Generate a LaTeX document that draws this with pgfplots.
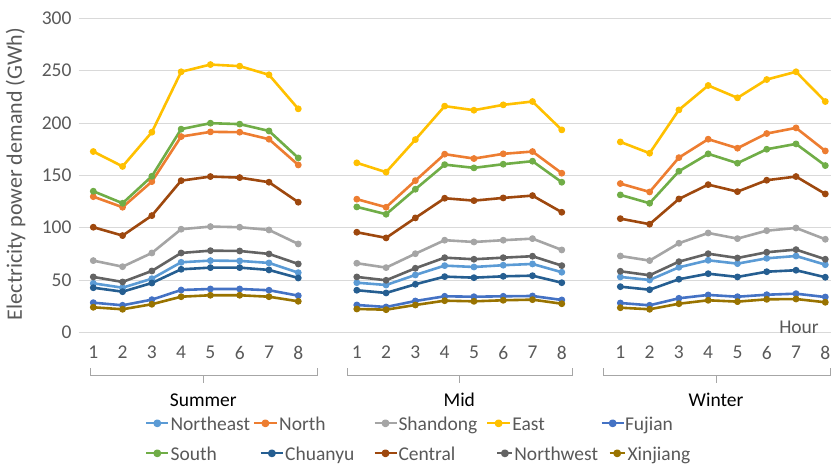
\documentclass[border=0pt]{standalone}
\usepackage{pgfplots}
\usepackage{pgfplotstable}
\pgfplotsset{compat=1.18}
\usepackage{fontspec}
\setmainfont{Carlito}

\definecolor{cNE}{HTML}{5B9BD5}
\definecolor{cN}{HTML}{ED7D31}
\definecolor{cSD}{HTML}{A5A5A5}
\definecolor{cE}{HTML}{FFC000}
\definecolor{cFJ}{HTML}{4472C4}
\definecolor{cS}{HTML}{70AD47}
\definecolor{cCY}{HTML}{255E91}
\definecolor{cC}{HTML}{9E480E}
\definecolor{cNW}{HTML}{636363}
\definecolor{cXJ}{HTML}{997300}
\definecolor{ctext}{HTML}{595959}
\definecolor{cgrid}{HTML}{D9D9D9}
\definecolor{cbrace}{HTML}{A6A6A6}

\newcommand{\fs}{\fontsize{19.5pt}{23pt}\selectfont}

% legend symbol: colour, horizontal offset, line length
\newcommand{\legsym}[3]{%
  \path (0pt,0pt);
  \draw[overlay,#1,line width=2pt] (#2,6.7pt) -- ++(#3,0pt);
  \fill[overlay,#1] (#2,6.7pt) ++(0.5*#3,0pt) circle (2.6pt);
}

% hourly demand (GWh); x = 0-7 Summer, 9-16 Mid, 18-25 Winter
\pgfplotstableread{
x  NE   N     SD    E     FJ   S     CY   C     NW   XJ
0  46.8 129.6 68.5  172.7 28.3 134.8 42.6 100.4 52.9 23.9
1  42.6 119.5 62.7  158.5 25.8 123.3 38.8 92.4  48.1 22.0
2  51.2 144.0 75.8  191.2 31.2 149.1 47.1 111.5 58.6 26.8
3  66.9 187.0 98.5  248.9 40.4 194.1 60.2 144.9 75.8 34.0
4  68.5 191.5 101.0 255.8 41.4 199.8 61.8 148.8 78.0 35.4
5  68.2 191.2 100.4 254.3 41.4 198.9 61.8 147.8 77.7 35.4
6  66.3 184.5 97.8  246.0 40.2 192.4 59.6 143.4 74.9 34.0
7  57.0 159.9 84.4  213.5 35.0 166.6 51.9 124.3 65.3 29.6
8  nan  nan   nan   nan   nan  nan   nan  nan   nan  nan
9  47.4 127.2 66.0  161.9 26.1 119.8 40.2 95.6  52.9 22.3
10 45.2 119.5 61.8  153.0 24.2 112.8 37.6 90.2  49.7 21.6
11 54.8 144.9 75.1  184.1 29.9 136.7 45.9 109.3 61.2 26.1
12 63.7 170.2 88.0  216.1 34.4 160.2 53.2 128.1 71.3 30.2
13 62.4 166.0 86.3  212.2 34.0 157.1 52.2 125.8 69.8 29.6
14 64.1 170.5 88.0  217.3 34.4 160.6 53.5 128.4 71.3 30.6
15 65.3 172.7 89.5  220.5 34.7 163.5 54.1 130.6 72.7 31.2
16 57.4 152.0 78.7  193.4 30.9 143.4 47.4 114.7 63.7 27.3
17 nan  nan   nan   nan   nan  nan   nan  nan   nan  nan
18 52.9 142.1 72.9  181.9 28.0 131.3 43.6 108.6 58.3 23.5
19 50.0 134.1 68.5  171.1 25.8 123.3 40.7 103.3 54.5 22.0
20 62.1 166.9 85.1  212.5 32.5 153.9 50.7 127.4 67.5 27.3
21 68.8 184.5 94.9  235.8 35.7 170.5 56.0 141.1 75.1 30.6
22 65.6 175.9 89.5  224.0 34.0 161.6 52.9 134.4 71.0 29.3
23 70.7 189.9 97.1  241.5 35.9 174.9 57.9 145.3 76.5 31.5
24 72.9 195.3 99.7  248.9 36.9 180.0 59.3 148.8 79.0 31.8
25 64.6 173.3 88.9  220.5 33.7 159.3 52.6 132.2 69.8 28.7
}\demand

\begin{document}
\begin{tikzpicture}
\begin{axis}[
  scale only axis, width=752.5pt, height=314pt,
  xmin=-0.5, xmax=25.2, ymin=0, ymax=300,
  xtick={0,1,2,3,4,5,6,7,9,10,11,12,13,14,15,16,18,19,20,21,22,23,24,25},
  xticklabels={1,2,3,4,5,6,7,8,1,2,3,4,5,6,7,8,1,2,3,4,5,6,7,8},
  ytick={0,50,...,300},
  ymajorgrids, grid style={cgrid, line width=0.8pt},
  axis line style={draw=none}, major tick length=0pt,
  /pgf/number format/assume math mode=true,
  ticklabel style={font=\fs, text=ctext},
  xticklabel style={anchor=north, inner sep=0pt, yshift=-13.7pt},
  yticklabel style={anchor=east, inner sep=0pt, xshift=-7pt},
  ylabel={Electricity power demand (GWh)},
  every axis y label/.style={at={(axis description cs:-0.0753,0.504)}, rotate=90, anchor=base,
    font=\fontsize{22pt}{26pt}\selectfont, text=ctext},
  xlabel={Hour},
  every axis x label/.style={at={(axis description cs:0.9882,-0.0032)}, anchor=base east,
    font=\fs, text=ctext},
  unbounded coords=jump, clip=false,
  every axis plot/.append style={line width=2.6pt, line join=round, mark=*, mark size=2.9pt,
    mark options={solid, line width=1pt}},
  legend columns=5,
  legend style={at={(axis description cs:0.08816,-0.2666)}, anchor=north west,
    draw=none, fill=none, inner sep=0pt, outer sep=0pt, row sep=12pt, column sep=0pt,
    font=\fs, text=ctext, cells={anchor=base west},
    nodes={inner sep=0pt, text height=14pt, text depth=4pt}},
]
\addplot[color=cNE, legend image code/.code={\legsym{cNE}{0pt}{22pt}}] table[x=x, y=NE] {\demand};
\addlegendentry{\makebox[105pt][l]{\hspace{23pt}Northeast}}
\addplot[color=cN, legend image code/.code={\legsym{cN}{0pt}{23pt}}] table[x=x, y=N] {\demand};
\addlegendentry{\makebox[118pt][l]{\hspace{24pt}North}}
\addplot[color=cSD, legend image code/.code={\legsym{cSD}{0pt}{22pt}}] table[x=x, y=SD] {\demand};
\addlegendentry{\makebox[110pt][l]{\hspace{22.7pt}Shandong}}
\addplot[color=cE, legend image code/.code={\legsym{cE}{0pt}{23pt}}] table[x=x, y=E] {\demand};
\addlegendentry{\makebox[112pt][l]{\hspace{24pt}East}}
\addplot[color=cFJ, legend image code/.code={\legsym{cFJ}{0pt}{22pt}}] table[x=x, y=FJ] {\demand};
\addlegendentry{\hspace{22pt}Fujian}
\addplot[color=cS, legend image code/.code={\legsym{cS}{0pt}{22pt}}] table[x=x, y=S] {\demand};
\addlegendentry{\makebox[105pt][l]{\hspace{23pt}South}}
\addplot[color=cCY, legend image code/.code={\legsym{cCY}{6.7pt}{22.6pt}}] table[x=x, y=CY] {\demand};
\addlegendentry{\makebox[118pt][l]{\hspace{30pt}Chuanyu}}
\addplot[color=cC, legend image code/.code={\legsym{cC}{0pt}{22pt}}] table[x=x, y=C] {\demand};
\addlegendentry{\makebox[110pt][l]{\hspace{22.7pt}Central}}
\addplot[color=cNW, legend image code/.code={\legsym{cNW}{10.3pt}{15pt}}] table[x=x, y=NW] {\demand};
\addlegendentry{\makebox[112pt][l]{\hspace{26pt}Northwest}}
\addplot[color=cXJ, legend image code/.code={\legsym{cXJ}{8pt}{15pt}}] table[x=x, y=XJ] {\demand};
\addlegendentry{\hspace{24.5pt}Xinjiang}

% season brackets and labels
\draw[cbrace, line width=0.9pt] (axis cs:-0.11,-34.4) -- (axis cs:-0.11,-40.8) -- (axis cs:7.64,-40.8) -- (axis cs:7.64,-34.4);
\draw[cbrace, line width=0.9pt] (axis cs:3.757,-40.8) -- (axis cs:3.757,-48.2);
\draw[cbrace, line width=0.9pt] (axis cs:8.67,-34.4) -- (axis cs:8.67,-40.8) -- (axis cs:16.38,-40.8) -- (axis cs:16.38,-34.4);
\draw[cbrace, line width=0.9pt] (axis cs:12.50,-40.8) -- (axis cs:12.50,-48.2);
\draw[cbrace, line width=0.9pt] (axis cs:17.41,-34.4) -- (axis cs:17.41,-40.8) -- (axis cs:25.16,-40.8) -- (axis cs:25.16,-34.4);
\draw[cbrace, line width=0.9pt] (axis cs:21.27,-40.8) -- (axis cs:21.27,-48.2);
\node[anchor=base, font=\fs, text=black] at (axis cs:3.757,-71.1) {Summer};
\node[anchor=base, font=\fs, text=black] at (axis cs:12.50,-71.1) {Mid};
\node[anchor=base, font=\fs, text=black] at (axis cs:21.27,-71.1) {Winter};
\end{axis}
\pgfresetboundingbox
\path[use as bounding box] (-78.66pt,-131.7pt) rectangle (752.34pt,332.3pt);
\end{tikzpicture}
\end{document}
